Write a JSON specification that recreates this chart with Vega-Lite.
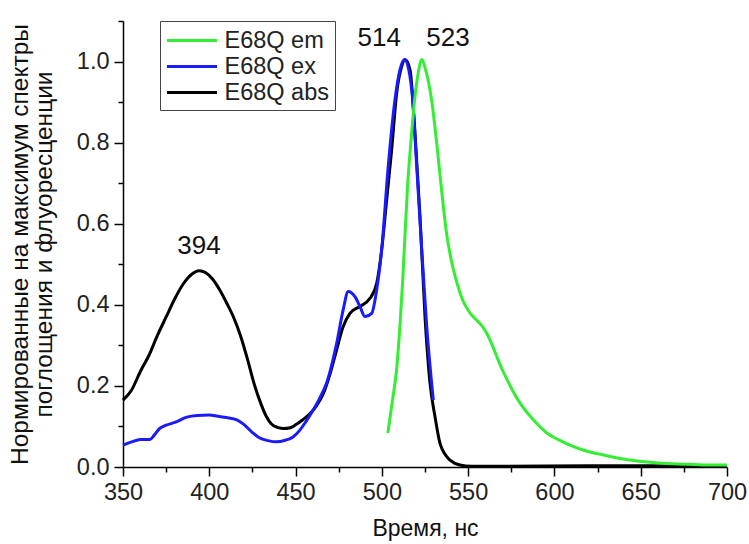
{
  "$schema": "https://vega.github.io/schema/vega-lite/v6.json",
  "width": 604,
  "height": 446,
  "autosize": {"type": "none"},
  "padding": {"left": 123, "top": 21, "right": 22, "bottom": 77},
  "background": "white",
  "config": {"view": {"stroke": null}, "font": "Liberation Sans"},
  "datasets": {
    "curves": [
      {"s": "E68Q abs", "w": 350, "v": 0.165},
      {"s": "E68Q abs", "w": 355, "v": 0.19},
      {"s": "E68Q abs", "w": 360, "v": 0.235},
      {"s": "E68Q abs", "w": 365, "v": 0.275},
      {"s": "E68Q abs", "w": 370, "v": 0.325},
      {"s": "E68Q abs", "w": 375, "v": 0.37},
      {"s": "E68Q abs", "w": 380, "v": 0.415},
      {"s": "E68Q abs", "w": 385, "v": 0.452},
      {"s": "E68Q abs", "w": 390, "v": 0.476},
      {"s": "E68Q abs", "w": 394, "v": 0.484},
      {"s": "E68Q abs", "w": 398, "v": 0.479},
      {"s": "E68Q abs", "w": 402, "v": 0.463},
      {"s": "E68Q abs", "w": 406, "v": 0.437},
      {"s": "E68Q abs", "w": 410, "v": 0.405},
      {"s": "E68Q abs", "w": 414, "v": 0.37},
      {"s": "E68Q abs", "w": 418, "v": 0.325},
      {"s": "E68Q abs", "w": 422, "v": 0.268},
      {"s": "E68Q abs", "w": 426, "v": 0.205},
      {"s": "E68Q abs", "w": 430, "v": 0.155},
      {"s": "E68Q abs", "w": 433, "v": 0.125},
      {"s": "E68Q abs", "w": 436, "v": 0.106},
      {"s": "E68Q abs", "w": 440, "v": 0.097},
      {"s": "E68Q abs", "w": 443, "v": 0.095},
      {"s": "E68Q abs", "w": 447, "v": 0.097},
      {"s": "E68Q abs", "w": 450, "v": 0.104},
      {"s": "E68Q abs", "w": 454, "v": 0.116},
      {"s": "E68Q abs", "w": 458, "v": 0.13},
      {"s": "E68Q abs", "w": 462, "v": 0.15},
      {"s": "E68Q abs", "w": 466, "v": 0.18},
      {"s": "E68Q abs", "w": 470, "v": 0.23},
      {"s": "E68Q abs", "w": 473.8, "v": 0.289},
      {"s": "E68Q abs", "w": 477.5, "v": 0.345},
      {"s": "E68Q abs", "w": 481.5, "v": 0.379},
      {"s": "E68Q abs", "w": 487.3, "v": 0.396},
      {"s": "E68Q abs", "w": 493.1, "v": 0.416},
      {"s": "E68Q abs", "w": 497, "v": 0.453},
      {"s": "E68Q abs", "w": 499.9, "v": 0.536},
      {"s": "E68Q abs", "w": 502.8, "v": 0.659},
      {"s": "E68Q abs", "w": 505.7, "v": 0.783},
      {"s": "E68Q abs", "w": 508.6, "v": 0.923},
      {"s": "E68Q abs", "w": 511.5, "v": 0.988},
      {"s": "E68Q abs", "w": 513.4, "v": 1.005},
      {"s": "E68Q abs", "w": 516.3, "v": 0.98},
      {"s": "E68Q abs", "w": 519.2, "v": 0.824},
      {"s": "E68Q abs", "w": 522.1, "v": 0.618},
      {"s": "E68Q abs", "w": 525, "v": 0.371},
      {"s": "E68Q abs", "w": 527.9, "v": 0.207},
      {"s": "E68Q abs", "w": 530.8, "v": 0.124},
      {"s": "E68Q abs", "w": 533.7, "v": 0.058},
      {"s": "E68Q abs", "w": 536.5, "v": 0.032},
      {"s": "E68Q abs", "w": 539.5, "v": 0.017},
      {"s": "E68Q abs", "w": 545.2, "v": 0.005},
      {"s": "E68Q abs", "w": 552, "v": 0.002},
      {"s": "E68Q abs", "w": 570, "v": 0.002},
      {"s": "E68Q abs", "w": 620, "v": 0.003},
      {"s": "E68Q abs", "w": 660, "v": 0.003},
      {"s": "E68Q abs", "w": 700, "v": 0.002},

      {"s": "E68Q ex", "w": 350, "v": 0.054},
      {"s": "E68Q ex", "w": 355, "v": 0.062},
      {"s": "E68Q ex", "w": 360, "v": 0.068},
      {"s": "E68Q ex", "w": 365.6, "v": 0.068},
      {"s": "E68Q ex", "w": 368, "v": 0.078},
      {"s": "E68Q ex", "w": 371, "v": 0.094},
      {"s": "E68Q ex", "w": 375, "v": 0.103},
      {"s": "E68Q ex", "w": 380, "v": 0.11},
      {"s": "E68Q ex", "w": 387, "v": 0.123},
      {"s": "E68Q ex", "w": 393, "v": 0.127},
      {"s": "E68Q ex", "w": 400, "v": 0.128},
      {"s": "E68Q ex", "w": 405, "v": 0.125},
      {"s": "E68Q ex", "w": 410, "v": 0.122},
      {"s": "E68Q ex", "w": 416, "v": 0.116},
      {"s": "E68Q ex", "w": 420, "v": 0.105},
      {"s": "E68Q ex", "w": 425, "v": 0.085},
      {"s": "E68Q ex", "w": 429, "v": 0.072},
      {"s": "E68Q ex", "w": 434, "v": 0.065},
      {"s": "E68Q ex", "w": 439, "v": 0.062},
      {"s": "E68Q ex", "w": 444, "v": 0.066},
      {"s": "E68Q ex", "w": 448.5, "v": 0.074},
      {"s": "E68Q ex", "w": 452.5, "v": 0.091},
      {"s": "E68Q ex", "w": 456, "v": 0.112},
      {"s": "E68Q ex", "w": 460.3, "v": 0.141},
      {"s": "E68Q ex", "w": 464, "v": 0.17},
      {"s": "E68Q ex", "w": 468, "v": 0.207},
      {"s": "E68Q ex", "w": 473.8, "v": 0.305},
      {"s": "E68Q ex", "w": 477.6, "v": 0.388},
      {"s": "E68Q ex", "w": 480.5, "v": 0.433},
      {"s": "E68Q ex", "w": 484.4, "v": 0.42},
      {"s": "E68Q ex", "w": 487.3, "v": 0.396},
      {"s": "E68Q ex", "w": 490.2, "v": 0.371},
      {"s": "E68Q ex", "w": 494.1, "v": 0.379},
      {"s": "E68Q ex", "w": 497, "v": 0.437},
      {"s": "E68Q ex", "w": 499.9, "v": 0.536},
      {"s": "E68Q ex", "w": 503.7, "v": 0.742},
      {"s": "E68Q ex", "w": 507.6, "v": 0.906},
      {"s": "E68Q ex", "w": 510.5, "v": 0.98},
      {"s": "E68Q ex", "w": 513.2, "v": 1.005},
      {"s": "E68Q ex", "w": 517.3, "v": 0.931},
      {"s": "E68Q ex", "w": 520.2, "v": 0.742},
      {"s": "E68Q ex", "w": 523.1, "v": 0.536},
      {"s": "E68Q ex", "w": 526, "v": 0.346},
      {"s": "E68Q ex", "w": 529.8, "v": 0.165},

      {"s": "E68Q em", "w": 503.5, "v": 0.084},
      {"s": "E68Q em", "w": 506, "v": 0.16},
      {"s": "E68Q em", "w": 508.7, "v": 0.247},
      {"s": "E68Q em", "w": 510.5, "v": 0.35},
      {"s": "E68Q em", "w": 512, "v": 0.454},
      {"s": "E68Q em", "w": 513.5, "v": 0.58},
      {"s": "E68Q em", "w": 515, "v": 0.7},
      {"s": "E68Q em", "w": 517, "v": 0.81},
      {"s": "E68Q em", "w": 519, "v": 0.906},
      {"s": "E68Q em", "w": 521, "v": 0.97},
      {"s": "E68Q em", "w": 523.2, "v": 1.005},
      {"s": "E68Q em", "w": 525, "v": 0.985},
      {"s": "E68Q em", "w": 527, "v": 0.95},
      {"s": "E68Q em", "w": 529, "v": 0.9},
      {"s": "E68Q em", "w": 531.5, "v": 0.81},
      {"s": "E68Q em", "w": 533.7, "v": 0.72},
      {"s": "E68Q em", "w": 537.7, "v": 0.57},
      {"s": "E68Q em", "w": 540, "v": 0.515},
      {"s": "E68Q em", "w": 543.5, "v": 0.454},
      {"s": "E68Q em", "w": 547, "v": 0.41},
      {"s": "E68Q em", "w": 551, "v": 0.38},
      {"s": "E68Q em", "w": 555, "v": 0.362},
      {"s": "E68Q em", "w": 558, "v": 0.348},
      {"s": "E68Q em", "w": 561, "v": 0.328},
      {"s": "E68Q em", "w": 564, "v": 0.3},
      {"s": "E68Q em", "w": 567, "v": 0.268},
      {"s": "E68Q em", "w": 570, "v": 0.238},
      {"s": "E68Q em", "w": 575, "v": 0.195},
      {"s": "E68Q em", "w": 580, "v": 0.158},
      {"s": "E68Q em", "w": 587, "v": 0.12},
      {"s": "E68Q em", "w": 595.6, "v": 0.084},
      {"s": "E68Q em", "w": 602, "v": 0.068},
      {"s": "E68Q em", "w": 609, "v": 0.054},
      {"s": "E68Q em", "w": 618, "v": 0.04},
      {"s": "E68Q em", "w": 628, "v": 0.03},
      {"s": "E68Q em", "w": 638, "v": 0.021},
      {"s": "E68Q em", "w": 647.8, "v": 0.015},
      {"s": "E68Q em", "w": 660, "v": 0.01},
      {"s": "E68Q em", "w": 676.8, "v": 0.007},
      {"s": "E68Q em", "w": 690, "v": 0.005},
      {"s": "E68Q em", "w": 700, "v": 0.005}
    ],
    "peaks": [
      {"w": 394, "v": 0.545, "label": "394"},
      {"w": 498.5, "v": 1.057, "label": "514"},
      {"w": 538.3, "v": 1.057, "label": "523"}
    ]
  },
  "layer": [
    {
      "data": {"name": "curves"},
      "mark": {"type": "line", "strokeWidth": 3, "strokeJoin": "round", "interpolate": "monotone"},
      "encoding": {
        "x": {
          "field": "w",
          "type": "quantitative",
          "scale": {"domain": [350, 700], "nice": false, "zero": false},
          "axis": {
            "values": [350, 375, 400, 425, 450, 475, 500, 525, 550, 575, 600, 625, 650, 675, 700],
            "labelExpr": "datum.value % 50 === 0 ? datum.label : ''",
            "tickSize": {"condition": {"test": "datum.value % 50 === 0", "value": 9}, "value": 5},
            "grid": false,
            "title": "Время, нс",
            "titleFontSize": 23,
            "titleFontWeight": "normal",
            "titleColor": "#111",
            "titlePadding": 14,
            "labelFontSize": 23.5,
            "labelColor": "#222",
            "labelFlush": false,
            "labelPadding": 4,
            "domainColor": "#000",
            "domainWidth": 1.5,
            "tickColor": "#000",
            "tickWidth": 1.5
          }
        },
        "y": {
          "field": "v",
          "type": "quantitative",
          "scale": {"domain": [0, 1.1], "nice": false},
          "axis": {
            "values": [0, 0.1, 0.2, 0.3, 0.4, 0.5, 0.6, 0.7, 0.8, 0.9, 1.0, 1.1],
            "labelExpr": "round(datum.value * 10) % 2 === 0 && datum.value < 1.05 ? format(datum.value, '.1f') : ''",
            "tickSize": {"condition": {"test": "round(datum.value * 10) % 2 === 0", "value": 9}, "value": 5},
            "grid": false,
            "title": ["Нормированные на максимум спектры", "поглощения и флуоресценции"],
            "titleFontSize": 24.5,
            "titleFontWeight": "normal",
            "titleColor": "#111",
            "titleLineHeight": 24,
            "titlePadding": 20,
            "labelFontSize": 23.5,
            "labelColor": "#222",
            "labelFlush": false,
            "labelPadding": 5,
            "domainColor": "#000",
            "domainWidth": 1.5,
            "tickColor": "#000",
            "tickWidth": 1.5
          }
        },
        "color": {
          "field": "s",
          "type": "nominal",
          "scale": {
            "domain": ["E68Q em", "E68Q ex", "E68Q abs"],
            "range": ["#33ee33", "#1a1aff", "#000000"]
          },
          "legend": {
            "orient": "none",
            "legendX": 37,
            "legendY": 0,
            "title": null,
            "symbolType": "M-1,0H3",
            "symbolSize": 625,
            "symbolStrokeWidth": 3,
            "labelFontSize": 23.5,
            "labelColor": "#222",
            "labelOffset": 31,
            "strokeColor": "#444",
            "fillColor": "white",
            "padding": 5.5,
            "rowPadding": 0
          }
        }
      }
    },
    {
      "data": {"name": "peaks"},
      "mark": {"type": "text", "fontSize": 26, "align": "center", "baseline": "middle", "color": "#111"},
      "encoding": {
        "x": {"field": "w", "type": "quantitative"},
        "y": {"field": "v", "type": "quantitative"},
        "text": {"field": "label", "type": "nominal"}
      }
    }
  ]
}
